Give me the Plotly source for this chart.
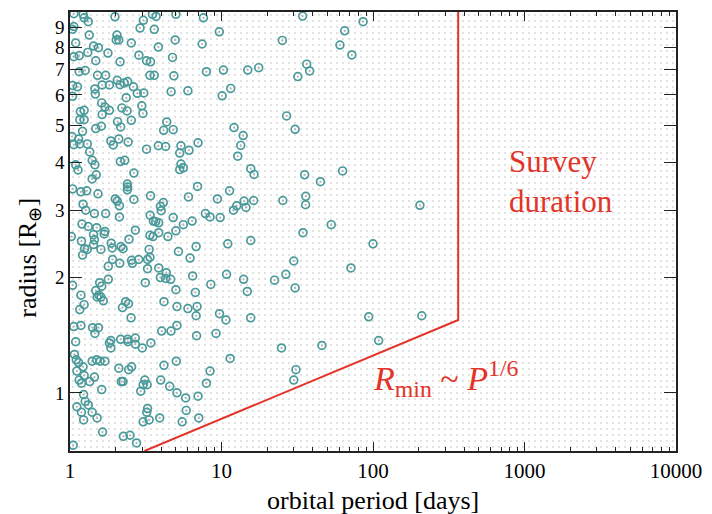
import plotly.graph_objects as go
import math

# ---------------- data ----------------
# axis extents (orbital period in days, radius in Earth radii)
period_range = [1, 10000]
radius_range = [0.705, 9.88]

# survey-limit curve: R_min ~ P^(1/6) up to survey duration, then vertical
limit_period = [3.1, 365, 365]
limit_radius = [0.705, 1.55, 9.88]

# detected planets (teal circles): (period [d], radius [R_earth])
detected = [
    (1.06,9.78),(1.22,9.74),(1.24,9.54),(1.32,9.32),(1.06,9.05),(1.04,8.9),(1.34,8.6),(1.09,8.2),
    (1.43,8.05),(1.54,7.97),(2.04,8.6),(2.02,8.35),(2.1,8.35),(1.98,9.6),(2.54,8.2),(3.05,9.4),
    (2.9,8.97),(3.5,9.74),(3.7,9.62),(5.0,9.74),(3.6,8.9),(4.95,8.35),(3.83,8.0),(1.06,7.55),
    (1.15,7.6),(1.31,7.75),(1.78,7.72),(1.48,7.37),(2.14,7.32),(2.85,7.62),(3.2,7.37),(3.4,7.32),
    (4.75,7.52),(1.15,6.9),(1.26,6.95),(1.52,6.75),(1.72,6.75),(3.37,6.75),(3.6,6.75),(4.85,6.73),
    (1.04,6.35),(1.12,6.3),(1.46,6.22),(1.47,6.03),(1.63,6.37),(1.82,6.37),(2.05,6.55),(2.14,6.38),
    (2.28,6.45),(2.4,6.5),(2.62,6.3),(2.78,6.06),(3.07,6.07),(2.35,5.9),(4.65,6.12),(6.0,6.15),
    (1.04,5.95),(1.62,5.72),(1.7,5.58),(1.82,5.47),(1.63,5.33),(2.2,5.55),(2.38,5.45),(2.98,5.62),
    (3.03,5.37),(1.17,5.43),(1.24,5.47),(1.16,5.17),(1.24,5.17),(2.06,5.11),(2.54,5.15),(2.16,4.95),
    (1.48,4.9),(1.61,4.97),(1.21,4.82),(4.35,5.1),(4.15,4.85),(4.8,4.87),(1.03,4.67),(1.14,4.6),
    (1.16,4.47),(1.06,4.45),(1.3,4.47),(1.86,4.55),(2.1,4.6),(1.93,4.44),(2.42,4.52),(1.35,4.26),
    (3.2,4.33),(3.83,4.42),(4.28,4.4),(5.4,4.42),(5.3,4.23),(6.1,4.3),(7.0,4.5),
    (7.6,9.54),(34.3,9.64),(9.67,8.77),(7.45,8.15),(25.2,8.33),(7.95,6.9),(10.3,6.97),(14.9,6.97),
    (17.6,7.07),(36.5,7.22),(38.2,6.93),(31.9,6.7),(11.5,6.24),(10.1,5.97),(26.9,5.29),(30.6,4.88),
    (12.1,4.93),(13.9,4.7),(13.4,4.43),(12.8,4.15),
    (86,9.32),(65,8.82),(60.5,8.1),(72.5,7.63),
    (1.4,4.05),(1.46,3.94),(1.09,3.94),(1.13,3.82),(2.15,4.02),(2.3,4.05),(2.64,3.75),(5.4,3.96),
    (5.3,3.83),(5.6,3.87),(1.4,3.62),(1.49,3.71),(2.39,3.51),(2.4,3.45),(2.39,3.39),(1.04,3.41),
    (1.18,3.35),(1.29,3.37),(1.53,3.31),(1.22,3.11),(1.27,3.0),(1.99,3.21),(2.05,3.17),(2.12,3.08),
    (2.64,3.2),(3.4,3.27),(4.13,3.14),(3.95,3.07),(4.0,2.99),(6.05,3.25),(6.95,3.46),(1.45,2.94),
    (1.72,2.94),(2.12,2.88),(3.38,2.91),(4.8,2.87),(6.4,2.81),(1.2,2.76),(1.32,2.72),(1.5,2.7),
    (1.7,2.64),(1.68,2.6),(1.43,2.59),(2.7,2.66),(3.55,2.81),(3.68,2.8),(3.85,2.78),(5.6,2.75),
    (3.37,2.58),(3.53,2.56),(3.85,2.62),(4.43,2.56),(5.0,2.65),(1.02,2.56),(1.45,2.51),(1.19,2.49),
    (1.43,2.44),(1.25,2.38),(1.3,2.37),(1.6,2.37),(1.87,2.46),(1.9,2.39),(2.17,2.41),(2.24,2.38),
    (2.45,2.52),(3.33,2.37),(5.2,2.34),(6.8,2.41),(1.21,2.29),(1.91,2.23),(2.55,2.22),(2.58,2.18),
    (2.84,2.23),(3.25,2.23),(3.37,2.26),(2.13,2.18),(1.79,2.14),(3.25,2.11),(3.85,2.12),(6.2,2.25),
    (4.32,2.06),(3.95,2.0),(4.28,1.99),(4.62,1.98),(6.45,2.02),(1.79,1.98),(1.57,1.94),(1.04,1.91),
    (1.62,1.9),(3.14,1.94),(1.48,1.85),(1.55,1.80),(1.6,1.78),(1.66,1.74),(1.51,1.78),(5.0,1.86),
    (6.72,1.83),(1.18,1.80),(1.24,1.70),(2.22,1.67),(2.33,1.73),(2.43,1.71),(4.17,1.73),(5.08,1.68),
    (6.0,1.66),(6.9,1.68),
    (15.6,3.85),(16.4,3.72),(35.4,3.71),(45,3.56),(11.3,3.37),(9.4,3.21),(14.1,3.17),(16.3,3.18),
    (12.6,3.08),(14.5,3.05),(12,3.0),(25.4,3.18),(36,3.26),(35.9,3.1),(7.83,2.94),(8.4,2.88),
    (9.8,2.87),(53,2.75),(34.5,2.62),(15.6,2.5),(11,2.45),(30,2.21),(26.6,2.04),(10.8,2.04),
    (14,1.98),(22.4,1.97),(8.5,1.92),(30.6,1.88),(14.8,1.84),
    (63,3.8),(204,3.09),(100,2.45),(71.5,2.12),
    (1.16,1.65),(2.53,1.57),(6.8,1.59),(1.06,1.49),(1.18,1.50),(1.41,1.48),(1.54,1.48),(1.46,1.43),
    (1.09,1.36),(1.86,1.37),(1.82,1.35),(1.86,1.31),(2.16,1.38),(2.4,1.38),(2.41,1.36),(2.7,1.39),
    (2.7,1.34),(3.0,1.31),(3.42,1.35),(4.03,1.45),(4.64,1.45),(5.08,1.50),(6.85,1.41),(1.07,1.26),
    (1.1,1.22),(1.14,1.20),(1.22,1.17),(1.4,1.21),(1.5,1.22),(1.58,1.21),(1.7,1.21),(1.11,1.14),
    (1.24,1.11),(1.45,1.10),(1.35,1.07),(1.15,1.08),(1.19,1.06),(1.62,1.02),(2.1,1.16),(2.44,1.15),
    (2.55,1.17),(2.18,1.07),(2.24,1.07),(3.12,1.08),(3.04,1.05),(3.23,1.05),(2.93,1.01),(4.17,1.18),
    (5.03,1.21),(3.97,1.08),(4.55,1.04),(5.08,1.0),(5.8,0.97),(7.0,0.98),(1.23,0.99),(1.26,0.95),
    (1.32,0.93),(1.11,0.92),(1.19,0.89),(1.4,0.89),(1.51,0.86),(1.23,0.85),(3.25,0.91),(3.21,0.89),
    (3.04,0.84),(3.33,0.85),(3.91,0.86),(5.5,0.84),(5.85,0.9),(7.08,0.86),(1.64,0.79),(2.25,0.77),
    (2.49,0.775),(2.75,0.74),(1.05,0.73),
    (9.7,1.61),(10.7,1.55),(15.6,1.57),(9.2,1.43),(11.4,1.23),(24.9,1.31),(46,1.33),(8.4,1.14),
    (7.95,1.06),(31,1.15),(30,1.08),
    (93.7,1.58),(210,1.59),(109,1.37),
]
det_period = [p for p, r in detected]
det_radius = [r for p, r in detected]

x_ticks = [1, 10, 100, 1000, 10000]
x_ticktext = ["1", "10", "100", "1000", "10000"]
y_ticks = [1, 2, 3, 4, 5, 6, 7, 8, 9]
y_ticktext = [str(v) for v in y_ticks]
x_minor = [m * 10 ** k for k in range(4) for m in range(2, 10)]

# ---------------- style ----------------
FONT = "Liberation Serif"
RED = "#e3342a"
TEAL = "#4a9a9a"
GRAY = "#b0b0b0"

fig = go.Figure()

# simulated population rendered as a dotted texture over the whole plane
bg_x = [period_range[0], period_range[1], period_range[1], period_range[0], period_range[0]]
bg_y = [radius_range[0], radius_range[0], radius_range[1], radius_range[1], radius_range[0]]
fig.add_trace(go.Scatter(
    x=bg_x, y=bg_y, mode="none", fill="toself", fillcolor="white",
    fillpattern=dict(shape=".", size=6, solidity=0.08, fgcolor=GRAY, bgcolor="white"),
    hoverinfo="skip", showlegend=False))

fig.add_trace(go.Scatter(
    x=limit_period, y=limit_radius, mode="lines",
    line=dict(color=RED, width=2), showlegend=False, hoverinfo="skip"))

fig.add_trace(go.Scatter(
    x=det_period, y=det_radius, mode="markers",
    marker=dict(symbol="circle", size=2.2, color=GRAY),
    showlegend=False, hoverinfo="skip"))
fig.add_trace(go.Scatter(
    x=det_period, y=det_radius, mode="markers",
    marker=dict(symbol="circle-open", size=7.8, color=TEAL, line=dict(width=1.7, color=TEAL)),
    showlegend=False, hoverinfo="skip"))

axis_common = dict(
    type="log", showgrid=False, zeroline=False, showline=True,
    linecolor="#222", linewidth=1.5, mirror="allticks",
    ticks="inside", tickcolor="#222", tickwidth=1.2,
)
fig.update_xaxes(
    **axis_common,
    tickfont=dict(family=FONT, size=21, color="black"),
    range=[math.log10(period_range[0]), math.log10(period_range[1])],
    tickmode="array", tickvals=x_ticks, ticktext=x_ticktext, ticklen=9,
    minor=dict(ticks="inside", ticklen=4, tickcolor="#222", tickwidth=1.1,
               tickmode="array", tickvals=x_minor, showgrid=False),
)
fig.update_yaxes(
    **axis_common,
    tickfont=dict(family=FONT, size=19, color="black"),
    range=[math.log10(radius_range[0]), math.log10(radius_range[1])],
    tickmode="array", tickvals=y_ticks, ticktext=y_ticktext, ticklen=12,
)

fig.add_annotation(text="orbital period [days]", xref="paper", yref="paper",
                   x=0.5, y=-0.113, xanchor="center", yanchor="middle", showarrow=False,
                   font=dict(family=FONT, size=26, color="black"))
fig.add_annotation(text="radius [R<sub>⊕</sub>]", xref="paper", yref="paper",
                   x=-0.068, y=0.44, xanchor="center", yanchor="middle", showarrow=False,
                   textangle=-90, font=dict(family=FONT, size=26, color="black"))
fig.add_annotation(text="Survey<br>duration", xref="paper", yref="paper",
                   x=0.721, y=0.614, xanchor="left", yanchor="middle", align="left",
                   showarrow=False, font=dict(family=FONT, size=31, color=RED))
fig.add_annotation(text="<i>R</i><sub>min</sub> ~ <i>P</i><sup>1/6</sup>", xref="paper", yref="paper",
                   x=0.497, y=0.166, xanchor="left", yanchor="middle", align="left",
                   showarrow=False, font=dict(family=FONT, size=34, color=RED))

fig.update_layout(
    width=712, height=514,
    margin=dict(l=70, r=31, t=10, b=63),
    paper_bgcolor="white", plot_bgcolor="white",
    showlegend=False,
)

fig.write_html("out.html")
